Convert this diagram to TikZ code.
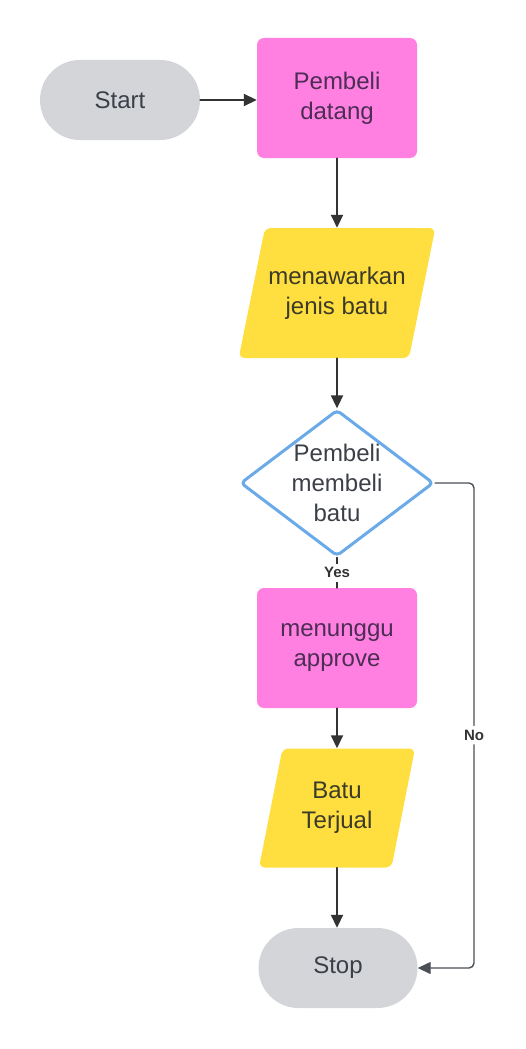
\documentclass[tikz,border=0pt]{standalone}
\usepackage{fontspec}
\setmainfont{Liberation Sans}
\usetikzlibrary{shapes.geometric,arrows.meta}
\definecolor{pillgray}{HTML}{D3D5D8}
\definecolor{boxpink}{HTML}{FF80E0}
\definecolor{ioyellow}{HTML}{FFDF3F}
\definecolor{decblue}{HTML}{6AAAE9}
\definecolor{inkdark}{HTML}{3B3F47}
\definecolor{linedark}{HTML}{333333}
\definecolor{linegray}{HTML}{4A4F56}
\begin{document}
\begin{tikzpicture}[x=1pt,y=-1pt,>={Triangle[length=13pt,width=12pt]},line join=round,line cap=round,
	every node/.style={font=\fontsize{24}{30}\selectfont,text=inkdark,align=center},
	terminal/.style={fill=pillgray,rounded corners=40pt,minimum width=160pt,minimum height=80pt},
	process/.style={fill=boxpink,rounded corners=7pt,minimum width=160pt,minimum height=120pt,text={rgb,255:red,75;green,45;blue,85}},
	io/.style={trapezium,trapezium left angle=#1,trapezium right angle=180-#1,trapezium stretches body=true,fill=ioyellow,rounded corners=6pt,text={rgb,255:red,60;green,58;blue,40}},
	decision/.style={diamond,draw=decblue,line width=3pt,fill=white,aspect=1.32,inner sep=0pt,minimum width=193pt,minimum height=146pt,rounded corners=4pt},
	flow/.style={draw=linedark,line width=1.8pt},
	noflow/.style={draw=linegray,line width=1.4pt,rounded corners=5pt},
	lbl/.style={font=\fontsize{15}{18}\selectfont\bfseries,fill=white,inner sep=4pt,text=linedark}]
	\useasboundingbox (0,0) rectangle (526,1049);
	% shapes
	\node[terminal] (start) at (120,100) {Start};
	\node[process] (buyer) at (337,98) {Pembeli\\datang};
	\node[io=66,minimum width=192pt,minimum height=130pt] (offer) at (337,293) {menawarkan\\jenis batu};
	\node[decision] (buys) at (337,483) {Pembeli\\membeli\\batu};
	\node[process] (wait) at (337,648) {menunggu\\approve};
	\node[io=68,minimum width=156pt,minimum height=119pt] (sold) at (337,808) {Batu\\Terjual};
	\node[terminal,minimum width=159pt] (stop) at (338,968) {Stop};
	% arrows
	\draw[flow,->] (start) -- (start -| buyer.west);
	\draw[flow,->] (buyer.south) -- (offer.north);
	\draw[flow,->] (offer.south) -- (buys.north);
	\draw[flow] (buys.south) -- node[lbl] (yes) {Yes} (wait.north);
	\draw[flow,->] (wait.south) -- (sold.north);
	\draw[flow,->] (sold.south) -- (sold.south |- stop.north);
	\coordinate (elbow) at (474,483);
	\draw[noflow,->] (buys.east) -- (elbow) -- node[lbl,pos=.52] (no) {No} (elbow |- stop.east) -- (stop.east);
\end{tikzpicture}
\end{document}
